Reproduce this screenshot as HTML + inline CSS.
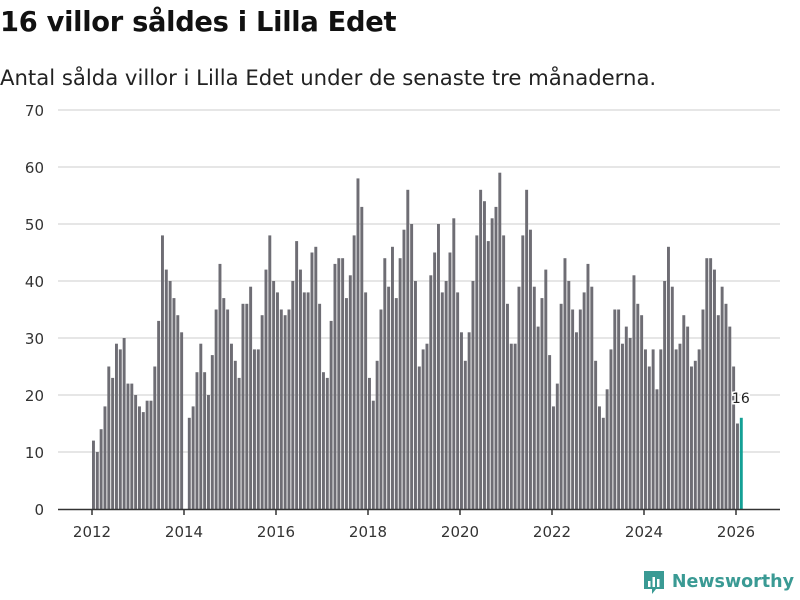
<!DOCTYPE html>
<html><head><meta charset="utf-8"><style>
body{margin:0;background:#fff;font-family:"DejaVu Sans","Liberation Sans",sans-serif;}
#wrap{position:relative;width:800px;height:600px;overflow:hidden;}
h1{position:absolute;left:0;top:7px;margin:0;font-size:27.3px;font-weight:bold;color:#111;letter-spacing:-0.3px}
.sub{position:absolute;left:0;top:65px;font-size:21.2px;color:#222}
.logo{position:absolute;right:6px;top:569px;font-size:17.5px;font-weight:bold;color:#3a9a94;display:flex;align-items:center;gap:6px}
</style></head><body><div id="wrap">
<h1>16 villor såldes i Lilla Edet</h1>
<div class="sub">Antal sålda villor i Lilla Edet under de senaste tre månaderna.</div>
<svg id="chart" width="800" height="600" style="position:absolute;left:0;top:0"></svg>
<div class="logo"><svg width="24" height="26" viewBox="0 0 24 26"><path d="M2 2h20v18h-8l-4 5v-5H2z" fill="#3a9a94"/><rect x="6" y="12" width="2.5" height="6" fill="#fff"/><rect x="10.5" y="8" width="2.5" height="10" fill="#fff"/><rect x="15" y="10" width="2.5" height="8" fill="#fff"/></svg><span>Newsworthy</span></div>
</div>
<script>
const years=[2012,2013,2014,2015,2016,2017,2018,2019,2020,2021,2022,2023,2024,2025,2026];
const values=[
12,10,14,18,25,23,29,28,30,22,22,20,
18,17,19,19,25,33,48,42,40,37,34,31,
0,16,18,24,29,24,20,27,35,43,37,35,
29,26,23,36,36,39,28,28,34,42,48,40,
38,35,34,35,40,47,42,38,38,45,46,36,
24,23,33,43,44,44,37,41,48,58,53,38,
23,19,26,35,44,39,46,37,44,49,56,50,
40,25,28,29,41,45,50,38,40,45,51,38,
31,26,31,40,48,56,54,47,51,53,59,48,
36,29,29,39,48,56,49,39,32,37,42,27,
18,22,36,44,40,35,31,35,38,43,39,26,
18,16,21,28,35,35,29,32,30,41,36,34,
28,25,28,21,28,40,46,39,28,29,34,32,
25,26,28,35,44,44,42,34,39,36,32,25,
15,16];
const yTicks=[0,10,20,30,40,50,60,70];
const xTicks=[2012,2014,2016,2018,2020,2022,2024,2026];
const svg=document.getElementById('chart');
const NS='http://www.w3.org/2000/svg';
const FF='DejaVu Sans, Liberation Sans, sans-serif';
const y0=509,yPer=399/70,x0=92,mW=644/168;
const y=v=>y0-v*yPer;
const x=i=>x0+i*mW;
const xy=yr=>x0+(yr-2012)*12*mW;
function mk(t,a){const e=document.createElementNS(NS,t);for(const k in a)e.setAttribute(k,a[k]);svg.appendChild(e);return e;}
yTicks.forEach(t=>{
 if(t>0){const g=mk('line',{x1:58,x2:780,y1:y(t),y2:y(t),stroke:'#dedede','stroke-width':1.5});
 
 }
 const l=mk('text',{x:44,y:y(t)+6,'text-anchor':'end','font-size':15,fill:'#333','font-family':FF});
 l.textContent=t;
 
 
});
values.forEach((v,i)=>{
 const last=i===values.length-1;
 const r=mk('rect',{x:x(i),y:y(v),width:mW-0.9,height:v*yPer,fill:last?'#14a095':'#6e6d74'});
 
 
});
const ax=mk('line',{x1:58,x2:780,y1:y0+0.5,y2:y0+0.5,stroke:'#333','stroke-width':1.5});


xTicks.forEach(t=>{
 const tk=mk('line',{x1:xy(t),x2:xy(t),y1:y0,y2:y0+6,stroke:'#333','stroke-width':1.5});
 
 
 const l=mk('text',{x:xy(t),y:537,'text-anchor':'middle','font-size':15,fill:'#333','font-family':FF});
 l.textContent=t;
 
 
});
const li=values.length-1;
const lab=mk('text',{x:x(li)+1,y:y(values[li])-15,'text-anchor':'middle','font-size':14,fill:'#222',stroke:'#fff','stroke-width':3,'paint-order':'stroke','font-family':FF});
lab.textContent=values[li];


</script></body></html>
